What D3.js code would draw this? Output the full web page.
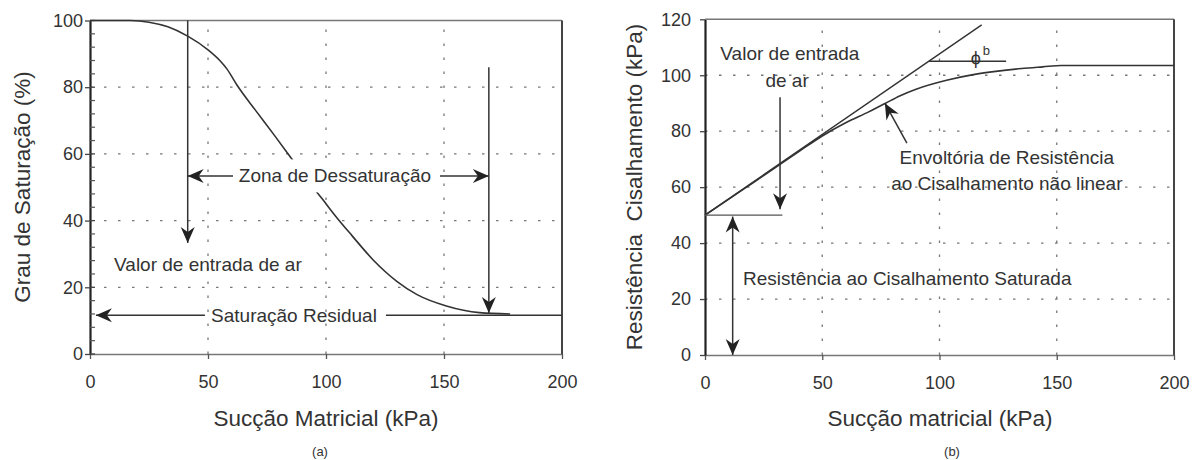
<!DOCTYPE html>
<html><head><meta charset="utf-8">
<script src="https://cdn.jsdelivr.net/npm/d3@7"></script>
<style>
html,body{margin:0;padding:0;background:#fff;}
svg text{font-family:"Liberation Sans",Arial,Helvetica,sans-serif;fill:#333;}
</style></head>
<body>
<svg id="c" width="1195" height="460"></svg>
<script>
// ---------- DATA ----------
// Panel (a): degree of saturation vs matric suction
const satSuction = [0, 10, 17, 25, 33, 41.4, 50, 55, 58, 62.4, 70, 78, 86, 92, 98.3, 104, 111, 120, 130, 138.6, 151, 165, 178];
const satDegree  = [100, 100, 100, 99.5, 98.1, 95.3, 91.2, 88, 85.5, 80.5, 73.2, 65.7, 58, 52.2, 46.6, 41.4, 35.5, 28.2, 21.8, 17.8, 14.4, 12.4, 12];
const residualLine = [[125.4, 11.6], [200, 11.6]];
const aXTicks = [0, 50, 100, 150, 200];
const aYTicks = [0, 20, 40, 60, 80, 100];
const aYMinor = [4, 8, 12, 16, 24, 28, 32, 36, 44, 48, 52, 56, 64, 68, 72, 76, 84, 88, 92, 96];

// Panel (b): shear strength vs matric suction
const envSuction = [0, 10, 20, 30, 40, 50, 60, 70, 77, 83, 90, 103, 115, 124, 135, 144, 152, 200];
const envStrength = [50, 55.6, 61.3, 67, 72.7, 78.3, 83, 87, 90, 92.6, 95, 98.2, 100.3, 101.4, 102.4, 103, 103.5, 103.5];
const linearEnvelope = [[0, 50], [118, 118]];
const phiBLine = [[95.5, 105], [128.4, 105]];
const satStrengthLine = [[0, 50], [33, 50]];
const bXTicks = [0, 50, 100, 150, 200];
const bYTicks = [0, 20, 40, 60, 80, 100, 120];

// ---------- DRAW ----------
const svg = d3.select("#c");
const ink = "#333";
const FONT = "'Liberation Sans',Arial,Helvetica,sans-serif";

const defs = svg.append("defs");
defs.append("marker").attr("id","ah").attr("markerUnits","userSpaceOnUse")
  .attr("viewBox","-17 -8 18 16").attr("refX",0).attr("refY",0)
  .attr("markerWidth",18).attr("markerHeight",16).attr("orient","auto-start-reverse")
  .append("path").attr("d","M0,0 L-16,-7 L-11,0 L-16,7 Z").attr("fill","#222");

function arrow(g, p1, p2, both) {
  const l = g.append("line").attr("x1",p1[0]).attr("y1",p1[1]).attr("x2",p2[0]).attr("y2",p2[1])
    .attr("stroke",ink).attr("stroke-width",1.5).attr("marker-end","url(#ah)");
  if (both) l.attr("marker-start","url(#ah)");
}
function seg(g, p1, p2, w, c) {
  return g.append("line").attr("x1",p1[0]).attr("y1",p1[1]).attr("x2",p2[0]).attr("y2",p2[1])
    .attr("stroke",c||ink).attr("stroke-width",w||1.4);
}
function label(g, x, y, txt, size, anchor) {
  return g.append("text").attr("x",x).attr("y",y).attr("text-anchor",anchor||"start")
    .attr("dominant-baseline","central").style("font-size",size+"px").style("font-family",FONT)
    .style("fill","#333").text(txt);
}

function frame(g, x, y, xt, yt, minor, yPad) {
  const [x0,x1] = x.range(), [y0,y1] = y.range();
  const grid = g.append("g");
  xt.filter(v=>v>x.domain()[0] && v<x.domain()[1]).forEach(v=>
    seg(grid,[x(v),y0],[x(v),y1],1.3,"#777"));
  yt.filter(v=>v>y.domain()[0] && v<y.domain()[1]).forEach(v=>
    seg(grid,[x0,y(v)],[x1,y(v)],1.3,"#777"));
  grid.selectAll("line").attr("stroke-dasharray","2.5,11.5");
  const ax = g.append("g").attr("transform",`translate(0,${y0})`)
    .call(d3.axisBottom(x).tickValues(xt).tickSize(5).tickSizeOuter(0).tickPadding(16).tickFormat(d3.format("d")));
  ax.select(".domain").attr("stroke","#777").attr("stroke-width",1.6);
  ax.selectAll(".tick line").attr("stroke","#555").attr("stroke-width",1.3);
  ax.selectAll(".tick text").style("font-size","18px").style("fill","#333").style("font-family",FONT);
  const ay = g.append("g").attr("transform",`translate(${x0},0)`)
    .call(d3.axisLeft(y).tickValues(yt).tickSize(5).tickSizeOuter(0).tickPadding(yPad).tickFormat(d3.format("d")));
  ay.select(".domain").attr("stroke","#222").attr("stroke-width",2.2);
  ay.selectAll(".tick line").attr("stroke","#444").attr("stroke-width",1.3);
  ay.selectAll(".tick text").style("font-size","18px").style("fill","#333").style("font-family",FONT);
  if (minor) {
    g.append("g").selectAll("line").data(minor).join("line")
      .attr("x1",x0).attr("x2",x0+5).attr("y1",d=>y(d)).attr("y2",d=>y(d))
      .attr("stroke","#555").attr("stroke-width",1.2);
    g.append("g").selectAll("line").data(yt).join("line")
      .attr("x1",x0).attr("x2",x0+5).attr("y1",d=>y(d)).attr("y2",d=>y(d))
      .attr("stroke","#444").attr("stroke-width",1.3);
  }
  seg(g,[x0,y1],[x1,y1],1.6,"#777");
  seg(g,[x1,y1],[x1,y0],2,"#444");
}

const lineGen = (x,y) => d3.line().x(d=>x(d[0])).y(d=>y(d[1])).curve(d3.curveMonotoneX);

// ----- Panel (a)
const xA = d3.scaleLinear().domain([0,200]).range([90,562]);
const yA = d3.scaleLinear().domain([0,100]).range([354,20.5]);
const gA = svg.append("g");
frame(gA, xA, yA, aXTicks, aYTicks, aYMinor, 2);

gA.append("path").datum(satSuction.map((s,i)=>[s,satDegree[i]]))
  .attr("d", lineGen(xA,yA)).attr("fill","none").attr("stroke",ink).attr("stroke-width",1.6);
seg(gA,[xA(residualLine[0][0]),yA(residualLine[0][1])],[xA(residualLine[1][0]),yA(residualLine[1][1])],1.6);

arrow(gA,[xA(41.4),yA(100)],[xA(41.4),yA(33.3)]);
arrow(gA,[xA(169),yA(86)],[xA(169),yA(12.3)]);
const zt = label(gA, xA(103.8), yA(53.4), "Zona de Dessaturação", 19, "middle");
const zb = zt.node().getBBox();
gA.append("rect").attr("x",zb.x-2).attr("y",zb.y-6).attr("width",zb.width+4).attr("height",zb.height+12).attr("fill","#fff");
zt.raise();
arrow(gA,[xA(60.6),yA(53.4)],[xA(41.4),yA(53.4)]);
arrow(gA,[xA(148.3),yA(53.4)],[xA(169),yA(53.4)]);
label(gA, xA(10.2), yA(26.7), "Valor de entrada de ar", 19);
arrow(gA,[xA(48.7),yA(11.6)],[xA(2.5),yA(11.6)]);
label(gA, xA(51.3), yA(11.6), "Saturação Residual", 19);

svg.append("text").attr("transform","translate(22,187) rotate(-90)").attr("text-anchor","middle")
  .attr("dominant-baseline","central").style("font-size","22.5px").style("fill","#333").text("Grau de Saturação (%)");
label(svg, 326, 418, "Sucção Matricial (kPa)", 22.5, "middle");
label(svg, 320, 451, "(a)", 13, "middle");

// ----- Panel (b)
const xB = d3.scaleLinear().domain([0,200]).range([705,1174]);
const yB = d3.scaleLinear().domain([0,120]).range([355,19.3]);
const gB = svg.append("g");
frame(gB, xB, yB, bXTicks, bYTicks, null, 9);

gB.append("path").datum(envSuction.map((s,i)=>[s,envStrength[i]]))
  .attr("d", lineGen(xB,yB)).attr("fill","none").attr("stroke",ink).attr("stroke-width",1.6);
seg(gB,[xB(linearEnvelope[0][0]),yB(linearEnvelope[0][1])],[xB(linearEnvelope[1][0]),yB(linearEnvelope[1][1])],1.4);
seg(gB,[xB(phiBLine[0][0]),yB(phiBLine[0][1])],[xB(phiBLine[1][0]),yB(phiBLine[1][1])],1.4);
seg(gB,[xB(satStrengthLine[0][0]),yB(satStrengthLine[0][1])],[xB(satStrengthLine[1][0]),yB(satStrengthLine[1][1])],1.4,"#555");

label(gB, xB(36.2), yB(107.9), "Valor de entrada", 19, "middle");
label(gB, xB(35), yB(98.2), "de ar", 19, "middle");
arrow(gB,[xB(32),yB(92.1)],[xB(32),yB(52.1)]);
arrow(gB,[xB(11.8),yB(49.5)],[xB(11.8),yB(0)],true);
label(gB, xB(16.2), yB(27.5), "Resistência ao Cisalhamento Saturada", 19);
label(gB, xB(128.7), yB(70.7), "Envoltória de Resistência", 19, "middle");
label(gB, xB(128.7), yB(61.4), "ao Cisalhamento não linear", 19, "middle");
arrow(gB,[xB(86.1),yB(75.7)],[xB(76.7),yB(90)]);
const phi = gB.append("text").attr("x",xB(113.3)).attr("y",yB(104.2)).style("font-size","18px")
  .style("font-family",FONT).style("fill","#333");
phi.append("tspan").text("ϕ");
phi.append("tspan").attr("dx",2).attr("dy",-9).style("font-size","13px").text("b");

svg.append("text").attr("transform","translate(634,187) rotate(-90)").attr("text-anchor","middle")
  .attr("dominant-baseline","central").style("font-size","22.5px").style("white-space","pre").style("fill","#333")
  .text("Resistência  Cisalhamento (kPa)");
label(svg, 940, 418, "Sucção matricial (kPa)", 22.5, "middle");
label(svg, 952, 451, "(b)", 13, "middle");
</script>
</body></html>
